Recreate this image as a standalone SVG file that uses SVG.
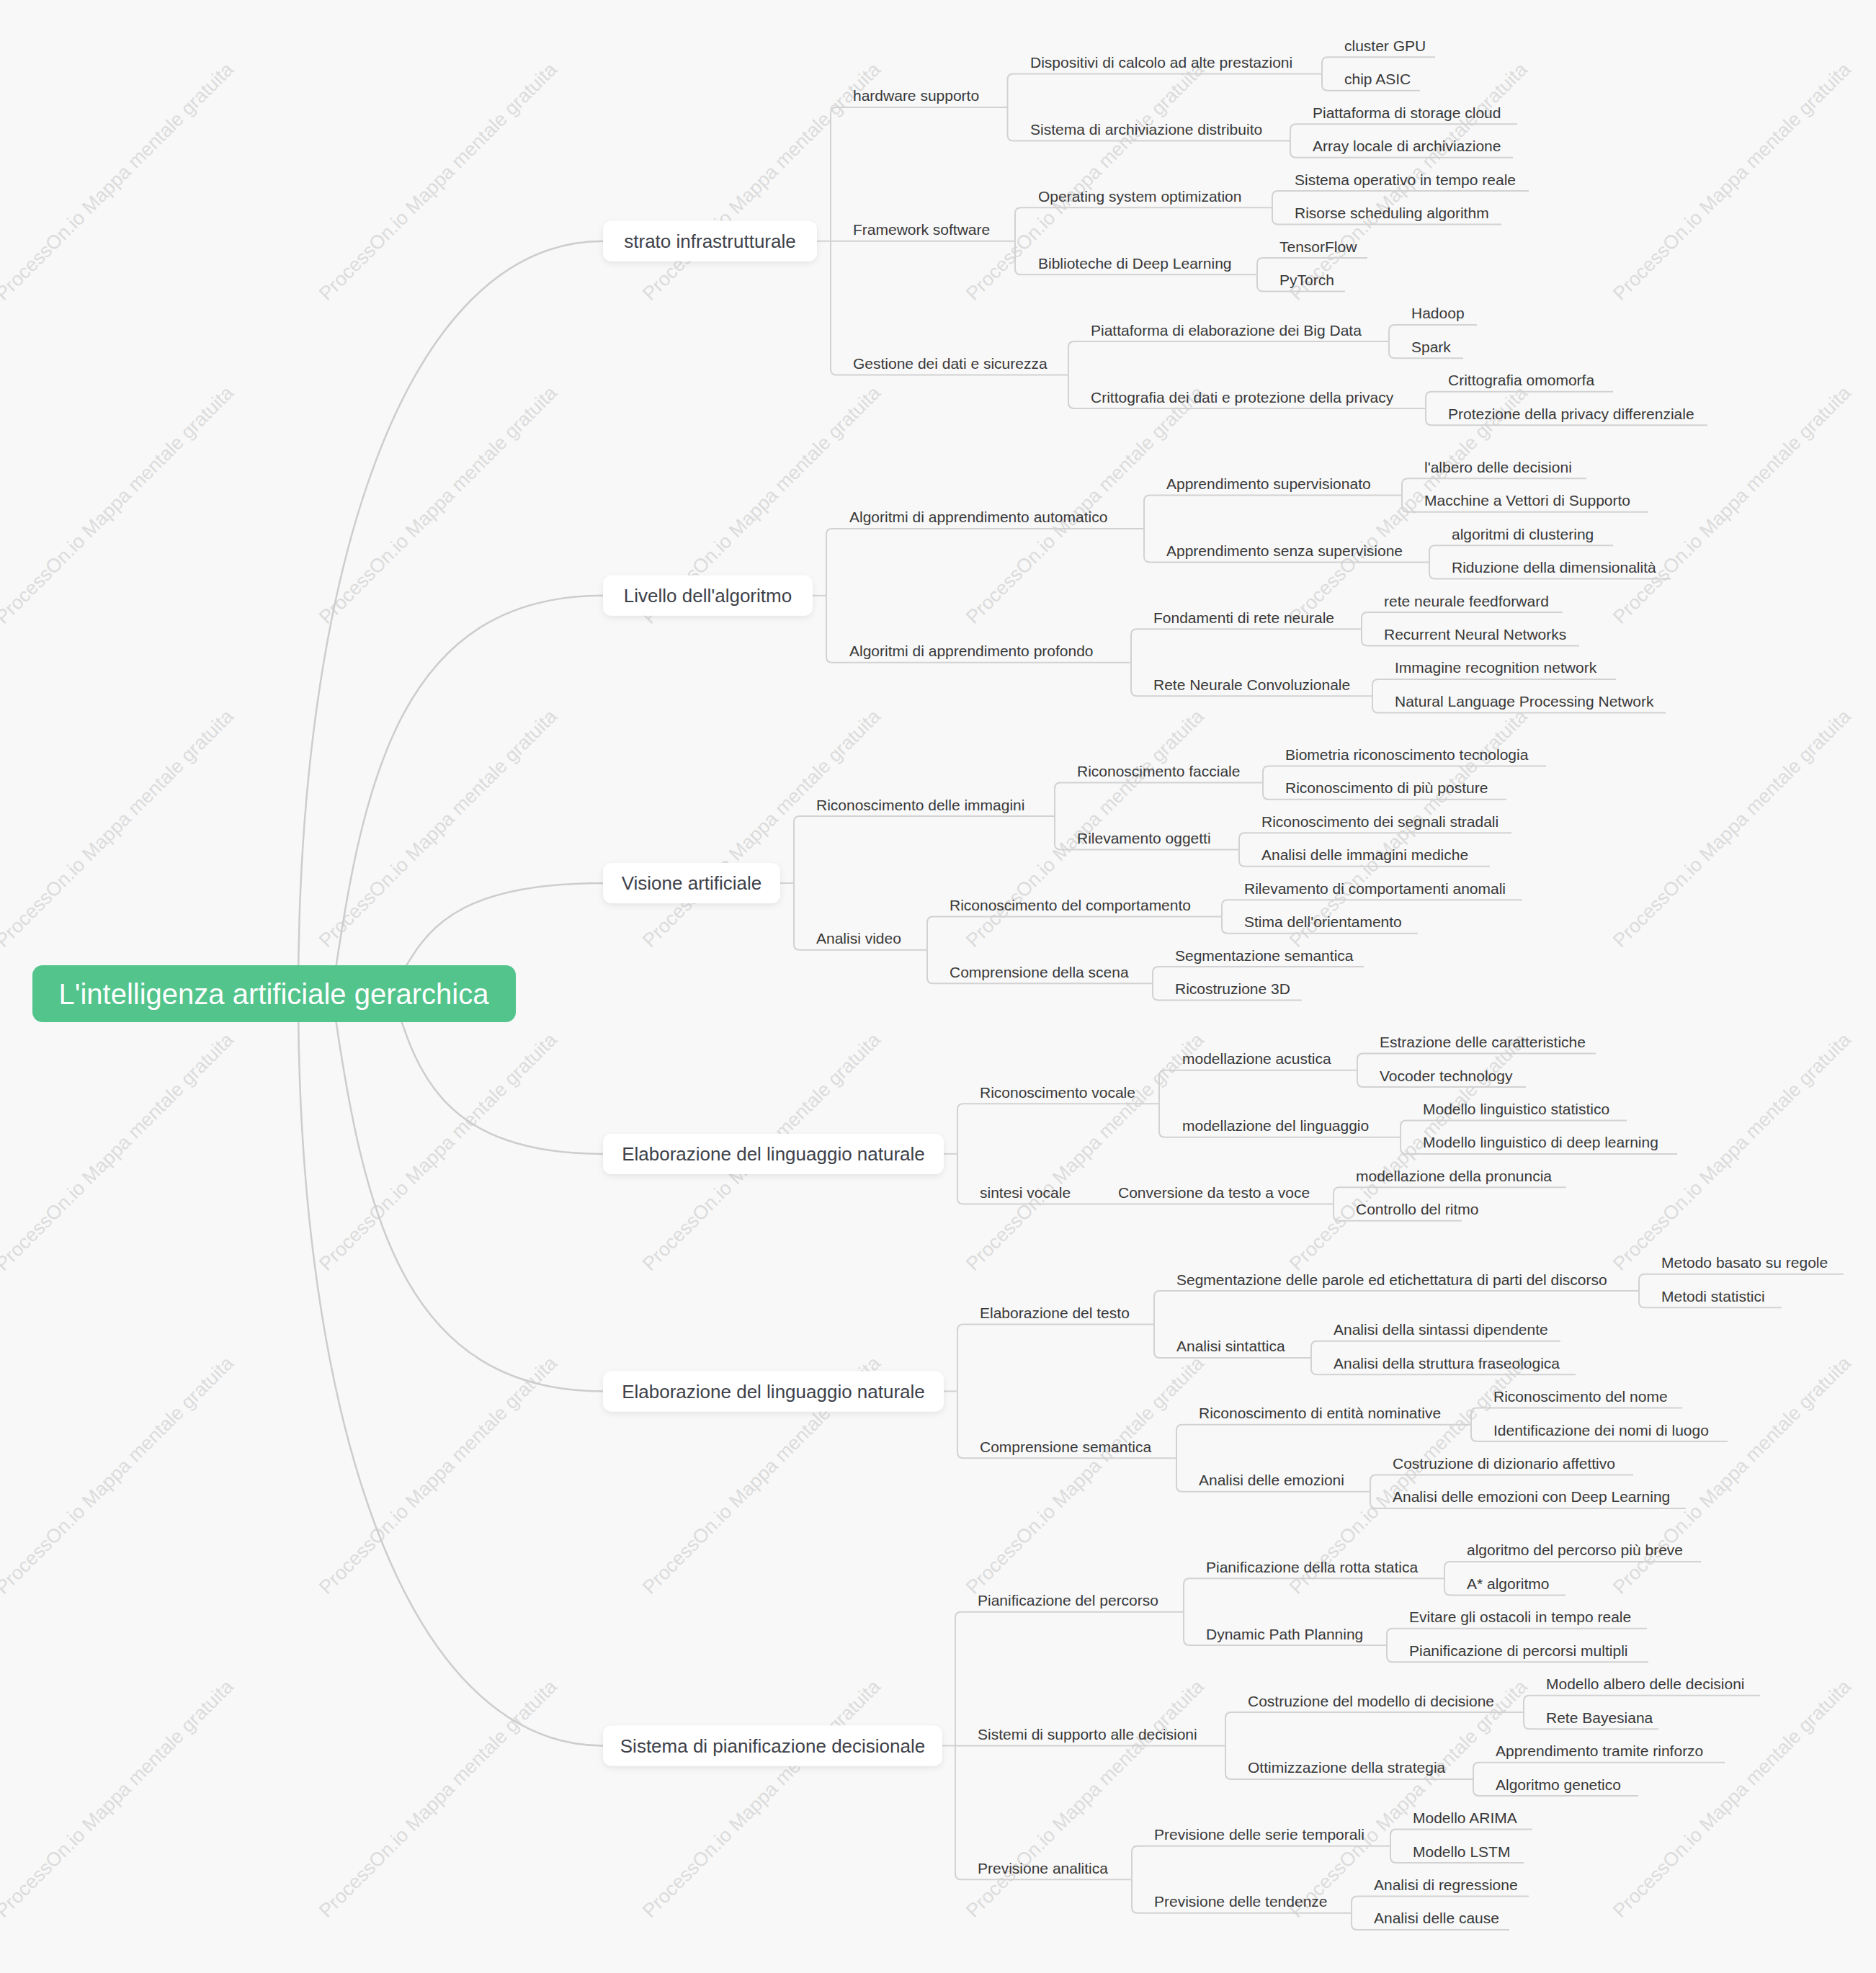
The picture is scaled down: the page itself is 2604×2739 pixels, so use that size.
<svg xmlns="http://www.w3.org/2000/svg" width="2604" height="2739" viewBox="0 0 2604 2739">
<style>
.t{font-family:"Liberation Sans",Arial,sans-serif;font-size:21px;fill:#383838}
.l1{font-family:"Liberation Sans",Arial,sans-serif;font-size:26px;fill:#3d4149;text-anchor:middle}
.rt{font-family:"Liberation Sans",Arial,sans-serif;font-size:40px;fill:#ffffff;text-anchor:middle}
.wm{font-family:"Liberation Sans",Arial,sans-serif;font-size:27px;fill:#dcdcdc;text-anchor:middle}
.ln{fill:none;stroke:#d2d2d2;stroke-width:2}
.cv{fill:none;stroke:#cdcdcd;stroke-width:2.5}
.box{fill:#ffffff}
</style>
<defs>
<filter id="sh" x="-10%" y="-30%" width="120%" height="170%">
<feDropShadow dx="0" dy="3" stdDeviation="4" flood-color="#000000" flood-opacity="0.08"/>
</filter>
</defs>
<rect x="0" y="0" width="2604" height="2739" fill="#f8f8f8"/>
<g id="watermarks">
<text class="wm" x="159" y="261" transform="rotate(-45 159 252)">ProcessOn.io Mappa mentale gratuita</text>
<text class="wm" x="608" y="261" transform="rotate(-45 608 252)">ProcessOn.io Mappa mentale gratuita</text>
<text class="wm" x="1057" y="261" transform="rotate(-45 1057 252)">ProcessOn.io Mappa mentale gratuita</text>
<text class="wm" x="1506" y="261" transform="rotate(-45 1506 252)">ProcessOn.io Mappa mentale gratuita</text>
<text class="wm" x="1955" y="261" transform="rotate(-45 1955 252)">ProcessOn.io Mappa mentale gratuita</text>
<text class="wm" x="2404" y="261" transform="rotate(-45 2404 252)">ProcessOn.io Mappa mentale gratuita</text>
<text class="wm" x="159" y="710" transform="rotate(-45 159 701)">ProcessOn.io Mappa mentale gratuita</text>
<text class="wm" x="608" y="710" transform="rotate(-45 608 701)">ProcessOn.io Mappa mentale gratuita</text>
<text class="wm" x="1057" y="710" transform="rotate(-45 1057 701)">ProcessOn.io Mappa mentale gratuita</text>
<text class="wm" x="1506" y="710" transform="rotate(-45 1506 701)">ProcessOn.io Mappa mentale gratuita</text>
<text class="wm" x="1955" y="710" transform="rotate(-45 1955 701)">ProcessOn.io Mappa mentale gratuita</text>
<text class="wm" x="2404" y="710" transform="rotate(-45 2404 701)">ProcessOn.io Mappa mentale gratuita</text>
<text class="wm" x="159" y="1159" transform="rotate(-45 159 1150)">ProcessOn.io Mappa mentale gratuita</text>
<text class="wm" x="608" y="1159" transform="rotate(-45 608 1150)">ProcessOn.io Mappa mentale gratuita</text>
<text class="wm" x="1057" y="1159" transform="rotate(-45 1057 1150)">ProcessOn.io Mappa mentale gratuita</text>
<text class="wm" x="1506" y="1159" transform="rotate(-45 1506 1150)">ProcessOn.io Mappa mentale gratuita</text>
<text class="wm" x="1955" y="1159" transform="rotate(-45 1955 1150)">ProcessOn.io Mappa mentale gratuita</text>
<text class="wm" x="2404" y="1159" transform="rotate(-45 2404 1150)">ProcessOn.io Mappa mentale gratuita</text>
<text class="wm" x="159" y="1608" transform="rotate(-45 159 1599)">ProcessOn.io Mappa mentale gratuita</text>
<text class="wm" x="608" y="1608" transform="rotate(-45 608 1599)">ProcessOn.io Mappa mentale gratuita</text>
<text class="wm" x="1057" y="1608" transform="rotate(-45 1057 1599)">ProcessOn.io Mappa mentale gratuita</text>
<text class="wm" x="1506" y="1608" transform="rotate(-45 1506 1599)">ProcessOn.io Mappa mentale gratuita</text>
<text class="wm" x="1955" y="1608" transform="rotate(-45 1955 1599)">ProcessOn.io Mappa mentale gratuita</text>
<text class="wm" x="2404" y="1608" transform="rotate(-45 2404 1599)">ProcessOn.io Mappa mentale gratuita</text>
<text class="wm" x="159" y="2057" transform="rotate(-45 159 2048)">ProcessOn.io Mappa mentale gratuita</text>
<text class="wm" x="608" y="2057" transform="rotate(-45 608 2048)">ProcessOn.io Mappa mentale gratuita</text>
<text class="wm" x="1057" y="2057" transform="rotate(-45 1057 2048)">ProcessOn.io Mappa mentale gratuita</text>
<text class="wm" x="1506" y="2057" transform="rotate(-45 1506 2048)">ProcessOn.io Mappa mentale gratuita</text>
<text class="wm" x="1955" y="2057" transform="rotate(-45 1955 2048)">ProcessOn.io Mappa mentale gratuita</text>
<text class="wm" x="2404" y="2057" transform="rotate(-45 2404 2048)">ProcessOn.io Mappa mentale gratuita</text>
<text class="wm" x="159" y="2506" transform="rotate(-45 159 2497)">ProcessOn.io Mappa mentale gratuita</text>
<text class="wm" x="608" y="2506" transform="rotate(-45 608 2497)">ProcessOn.io Mappa mentale gratuita</text>
<text class="wm" x="1057" y="2506" transform="rotate(-45 1057 2497)">ProcessOn.io Mappa mentale gratuita</text>
<text class="wm" x="1506" y="2506" transform="rotate(-45 1506 2497)">ProcessOn.io Mappa mentale gratuita</text>
<text class="wm" x="1955" y="2506" transform="rotate(-45 1955 2497)">ProcessOn.io Mappa mentale gratuita</text>
<text class="wm" x="2404" y="2506" transform="rotate(-45 2404 2497)">ProcessOn.io Mappa mentale gratuita</text>
</g>
<g id="connectors">
<path class="cv" d="M414,1380C414,800 560,334.75 837,334.75"/>
<path class="cv" d="M461,1380C503,1080 558,826.85 837,826.85"/>
<path class="cv" d="M540,1380C582,1320 594,1225.95 837,1225.95"/>
<path class="cv" d="M545,1380C577,1480 608,1601.9 837,1601.9"/>
<path class="cv" d="M461,1380C503,1680 558,1931.4 837,1931.4"/>
<path class="cv" d="M414,1380C414,1960 560,2423.45 837,2423.45"/>
<path class="ln" d="M1134,334.75H1153"/>
<path class="ln" d="M1153,334.75V156.95Q1153,148.95 1161,148.95H1398.5"/>
<path class="ln" d="M1153,334.75H1409"/>
<path class="ln" d="M1153,334.75V512.55Q1153,520.55 1161,520.55H1483"/>
<path class="ln" d="M1398.5,148.95V110.5Q1398.5,102.5 1406.5,102.5H1835"/>
<path class="ln" d="M1398.5,148.95V187.4Q1398.5,195.4 1406.5,195.4H1791"/>
<path class="ln" d="M1835,102.5V87.3Q1835,79.3 1843,79.3H1992"/>
<path class="ln" d="M1835,102.5V117.75Q1835,125.75 1843,125.75H1971"/>
<path class="ln" d="M1791,195.4V180.2Q1791,172.2 1799,172.2H2106"/>
<path class="ln" d="M1791,195.4V210.65Q1791,218.65 1799,218.65H2100"/>
<path class="ln" d="M1409,334.75V296.3Q1409,288.3 1417,288.3H1766"/>
<path class="ln" d="M1409,334.75V373.2Q1409,381.2 1417,381.2H1745"/>
<path class="ln" d="M1766,288.3V273.1Q1766,265.1 1774,265.1H2122"/>
<path class="ln" d="M1766,288.3V303.55Q1766,311.55 1774,311.55H2084"/>
<path class="ln" d="M1745,381.2V366Q1745,358 1753,358H1898"/>
<path class="ln" d="M1745,381.2V396.45Q1745,404.45 1753,404.45H1867"/>
<path class="ln" d="M1483,520.55V482.1Q1483,474.1 1491,474.1H1928"/>
<path class="ln" d="M1483,520.55V559Q1483,567 1491,567H1979"/>
<path class="ln" d="M1928,474.1V458.9Q1928,450.9 1936,450.9H2050"/>
<path class="ln" d="M1928,474.1V489.35Q1928,497.35 1936,497.35H2031"/>
<path class="ln" d="M1979,567V551.8Q1979,543.8 1987,543.8H2239"/>
<path class="ln" d="M1979,567V582.25Q1979,590.25 1987,590.25H2370"/>
<path class="ln" d="M1128,826.85H1147"/>
<path class="ln" d="M1147,826.85V741.95Q1147,733.95 1155,733.95H1588"/>
<path class="ln" d="M1147,826.85V911.75Q1147,919.75 1155,919.75H1570"/>
<path class="ln" d="M1588,733.95V695.5Q1588,687.5 1596,687.5H1946"/>
<path class="ln" d="M1588,733.95V772.4Q1588,780.4 1596,780.4H1984"/>
<path class="ln" d="M1946,687.5V672.25Q1946,664.25 1954,664.25H2202"/>
<path class="ln" d="M1946,687.5V702.7Q1946,710.7 1954,710.7H2288"/>
<path class="ln" d="M1984,780.4V765.15Q1984,757.15 1992,757.15H2239"/>
<path class="ln" d="M1984,780.4V795.6Q1984,803.6 1992,803.6H2319"/>
<path class="ln" d="M1570,919.75V881.3Q1570,873.3 1578,873.3H1890"/>
<path class="ln" d="M1570,919.75V958.2Q1570,966.2 1578,966.2H1905"/>
<path class="ln" d="M1890,873.3V858.05Q1890,850.05 1898,850.05H2169"/>
<path class="ln" d="M1890,873.3V888.5Q1890,896.5 1898,896.5H2192"/>
<path class="ln" d="M1905,966.2V950.95Q1905,942.95 1913,942.95H2243"/>
<path class="ln" d="M1905,966.2V981.4Q1905,989.4 1913,989.4H2312"/>
<path class="ln" d="M1083,1225.95H1102"/>
<path class="ln" d="M1102,1225.95V1141.05Q1102,1133.05 1110,1133.05H1464"/>
<path class="ln" d="M1102,1225.95V1310.85Q1102,1318.85 1110,1318.85H1287"/>
<path class="ln" d="M1464,1133.05V1094.6Q1464,1086.6 1472,1086.6H1753"/>
<path class="ln" d="M1464,1133.05V1171.5Q1464,1179.5 1472,1179.5H1720"/>
<path class="ln" d="M1753,1086.6V1071.4Q1753,1063.4 1761,1063.4H2146"/>
<path class="ln" d="M1753,1086.6V1101.85Q1753,1109.85 1761,1109.85H2091"/>
<path class="ln" d="M1720,1179.5V1164.3Q1720,1156.3 1728,1156.3H2098"/>
<path class="ln" d="M1720,1179.5V1194.75Q1720,1202.75 1728,1202.75H2068"/>
<path class="ln" d="M1287,1318.85V1280.4Q1287,1272.4 1295,1272.4H1696"/>
<path class="ln" d="M1287,1318.85V1357.3Q1287,1365.3 1295,1365.3H1600"/>
<path class="ln" d="M1696,1272.4V1257.2Q1696,1249.2 1704,1249.2H2113"/>
<path class="ln" d="M1696,1272.4V1287.65Q1696,1295.65 1704,1295.65H1968"/>
<path class="ln" d="M1600,1365.3V1350.1Q1600,1342.1 1608,1342.1H1893"/>
<path class="ln" d="M1600,1365.3V1380.55Q1600,1388.55 1608,1388.55H1807"/>
<path class="ln" d="M1310,1601.9H1329"/>
<path class="ln" d="M1329,1601.9V1540.25Q1329,1532.25 1337,1532.25H1609"/>
<path class="ln" d="M1329,1601.9V1663.6Q1329,1671.6 1337,1671.6H1521"/>
<path class="ln" d="M1609,1532.25V1493.8Q1609,1485.8 1617,1485.8H1884"/>
<path class="ln" d="M1609,1532.25V1570.7Q1609,1578.7 1617,1578.7H1944"/>
<path class="ln" d="M1884,1485.8V1470.55Q1884,1462.55 1892,1462.55H2215"/>
<path class="ln" d="M1884,1485.8V1501Q1884,1509 1892,1509H2118"/>
<path class="ln" d="M1944,1578.7V1563.45Q1944,1555.45 1952,1555.45H2258"/>
<path class="ln" d="M1944,1578.7V1593.9Q1944,1601.9 1952,1601.9H2328"/>
<path class="ln" d="M1521,1671.6H1851"/>
<path class="ln" d="M1851,1671.6V1656.35Q1851,1648.35 1859,1648.35H2174"/>
<path class="ln" d="M1851,1671.6V1686.8Q1851,1694.8 1859,1694.8H2029"/>
<path class="ln" d="M1310,1931.4H1329"/>
<path class="ln" d="M1329,1931.4V1846.5Q1329,1838.5 1337,1838.5H1602"/>
<path class="ln" d="M1329,1931.4V2016.25Q1329,2024.25 1337,2024.25H1633"/>
<path class="ln" d="M1602,1838.5V1800Q1602,1792 1610,1792H2275"/>
<path class="ln" d="M1602,1838.5V1876.9Q1602,1884.9 1610,1884.9H1820"/>
<path class="ln" d="M2275,1792V1776.8Q2275,1768.8 2283,1768.8H2559"/>
<path class="ln" d="M2275,1792V1807.25Q2275,1815.25 2283,1815.25H2473"/>
<path class="ln" d="M1820,1884.9V1869.7Q1820,1861.7 1828,1861.7H2166"/>
<path class="ln" d="M1820,1884.9V1900.15Q1820,1908.15 1828,1908.15H2187"/>
<path class="ln" d="M1633,2024.25V1985.8Q1633,1977.8 1641,1977.8H2042"/>
<path class="ln" d="M1633,2024.25V2062.7Q1633,2070.7 1641,2070.7H1902"/>
<path class="ln" d="M2042,1977.8V1962.6Q2042,1954.6 2050,1954.6H2335"/>
<path class="ln" d="M2042,1977.8V1993.05Q2042,2001.05 2050,2001.05H2398"/>
<path class="ln" d="M1902,2070.7V2055.5Q1902,2047.5 1910,2047.5H2267"/>
<path class="ln" d="M1902,2070.7V2085.95Q1902,2093.95 1910,2093.95H2340"/>
<path class="ln" d="M1308,2423.45H1326"/>
<path class="ln" d="M1326,2423.45V2245.65Q1326,2237.65 1334,2237.65H1643"/>
<path class="ln" d="M1326,2423.45H1701"/>
<path class="ln" d="M1326,2423.45V2601.25Q1326,2609.25 1334,2609.25H1571"/>
<path class="ln" d="M1643,2237.65V2199.2Q1643,2191.2 1651,2191.2H2005"/>
<path class="ln" d="M1643,2237.65V2276.1Q1643,2284.1 1651,2284.1H1925"/>
<path class="ln" d="M2005,2191.2V2175.95Q2005,2167.95 2013,2167.95H2361"/>
<path class="ln" d="M2005,2191.2V2206.4Q2005,2214.4 2013,2214.4H2173"/>
<path class="ln" d="M1925,2284.1V2268.85Q1925,2260.85 1933,2260.85H2286"/>
<path class="ln" d="M1925,2284.1V2299.3Q1925,2307.3 1933,2307.3H2288"/>
<path class="ln" d="M1701,2423.45V2385Q1701,2377 1709,2377H2115"/>
<path class="ln" d="M1701,2423.45V2461.9Q1701,2469.9 1709,2469.9H2045"/>
<path class="ln" d="M2115,2377V2361.75Q2115,2353.75 2123,2353.75H2443"/>
<path class="ln" d="M2115,2377V2392.2Q2115,2400.2 2123,2400.2H2302"/>
<path class="ln" d="M2045,2469.9V2454.65Q2045,2446.65 2053,2446.65H2394"/>
<path class="ln" d="M2045,2469.9V2485.1Q2045,2493.1 2053,2493.1H2274"/>
<path class="ln" d="M1571,2609.25V2570.8Q1571,2562.8 1579,2562.8H1930"/>
<path class="ln" d="M1571,2609.25V2647.7Q1571,2655.7 1579,2655.7H1876"/>
<path class="ln" d="M1930,2562.8V2547.55Q1930,2539.55 1938,2539.55H2127"/>
<path class="ln" d="M1930,2562.8V2578Q1930,2586 1938,2586H2115"/>
<path class="ln" d="M1876,2655.7V2640.45Q1876,2632.45 1884,2632.45H2122"/>
<path class="ln" d="M1876,2655.7V2670.9Q1876,2678.9 1884,2678.9H2095"/>
</g>
<g id="root">
<rect x="45" y="1340" width="671" height="79" rx="14" fill="#52c48c"/>
<text class="rt" x="380" y="1394">L'intelligenza artificiale gerarchica</text>
</g>
<g id="n1"><rect class="box" filter="url(#sh)" x="837" y="306.75" width="297" height="56" rx="12"/><text class="l1" x="985.5" y="344.25">strato infrastrutturale</text></g>
<g id="n2"><rect class="box" filter="url(#sh)" x="837" y="798.85" width="291" height="56" rx="12"/><text class="l1" x="982.5" y="836.35">Livello dell'algoritmo</text></g>
<g id="n3"><rect class="box" filter="url(#sh)" x="837" y="1197.95" width="246" height="56" rx="12"/><text class="l1" x="960" y="1235.45">Visione artificiale</text></g>
<g id="n4"><rect class="box" filter="url(#sh)" x="837" y="1573.9" width="473" height="56" rx="12"/><text class="l1" x="1073.5" y="1611.4">Elaborazione del linguaggio naturale</text></g>
<g id="n5"><rect class="box" filter="url(#sh)" x="837" y="1903.4" width="473" height="56" rx="12"/><text class="l1" x="1073.5" y="1940.9">Elaborazione del linguaggio naturale</text></g>
<g id="n6"><rect class="box" filter="url(#sh)" x="837" y="2395.45" width="471" height="56" rx="12"/><text class="l1" x="1072.5" y="2432.95">Sistema di pianificazione decisionale</text></g>
<g id="n1-1"><text class="t" x="1184" y="140.45">hardware supporto</text></g>
<g id="n1-2"><text class="t" x="1184" y="326.25">Framework software</text></g>
<g id="n1-3"><text class="t" x="1184" y="512.05">Gestione dei dati e sicurezza</text></g>
<g id="n1-1-1"><text class="t" x="1430" y="94">Dispositivi di calcolo ad alte prestazioni</text></g>
<g id="n1-1-2"><text class="t" x="1430" y="186.9">Sistema di archiviazione distribuito</text></g>
<g id="n1-1-1-1"><text class="t" x="1866" y="70.8">cluster GPU</text></g>
<g id="n1-1-1-2"><text class="t" x="1866" y="117.25">chip ASIC</text></g>
<g id="n1-1-2-1"><text class="t" x="1822" y="163.7">Piattaforma di storage cloud</text></g>
<g id="n1-1-2-2"><text class="t" x="1822" y="210.15">Array locale di archiviazione</text></g>
<g id="n1-2-1"><text class="t" x="1441" y="279.8">Operating system optimization</text></g>
<g id="n1-2-2"><text class="t" x="1441" y="372.7">Biblioteche di Deep Learning</text></g>
<g id="n1-2-1-1"><text class="t" x="1797" y="256.6">Sistema operativo in tempo reale</text></g>
<g id="n1-2-1-2"><text class="t" x="1797" y="303.05">Risorse scheduling algorithm</text></g>
<g id="n1-2-2-1"><text class="t" x="1776" y="349.5">TensorFlow</text></g>
<g id="n1-2-2-2"><text class="t" x="1776" y="395.95">PyTorch</text></g>
<g id="n1-3-1"><text class="t" x="1514" y="465.6">Piattaforma di elaborazione dei Big Data</text></g>
<g id="n1-3-2"><text class="t" x="1514" y="558.5">Crittografia dei dati e protezione della privacy</text></g>
<g id="n1-3-1-1"><text class="t" x="1959" y="442.4">Hadoop</text></g>
<g id="n1-3-1-2"><text class="t" x="1959" y="488.85">Spark</text></g>
<g id="n1-3-2-1"><text class="t" x="2010" y="535.3">Crittografia omomorfa</text></g>
<g id="n1-3-2-2"><text class="t" x="2010" y="581.75">Protezione della privacy differenziale</text></g>
<g id="n2-1"><text class="t" x="1179" y="725.45">Algoritmi di apprendimento automatico</text></g>
<g id="n2-2"><text class="t" x="1179" y="911.25">Algoritmi di apprendimento profondo</text></g>
<g id="n2-1-1"><text class="t" x="1619" y="679">Apprendimento supervisionato</text></g>
<g id="n2-1-2"><text class="t" x="1619" y="771.9">Apprendimento senza supervisione</text></g>
<g id="n2-1-1-1"><text class="t" x="1977" y="655.75">l'albero delle decisioni</text></g>
<g id="n2-1-1-2"><text class="t" x="1977" y="702.2">Macchine a Vettori di Supporto</text></g>
<g id="n2-1-2-1"><text class="t" x="2015" y="748.65">algoritmi di clustering</text></g>
<g id="n2-1-2-2"><text class="t" x="2015" y="795.1">Riduzione della dimensionalità</text></g>
<g id="n2-2-1"><text class="t" x="1601" y="864.8">Fondamenti di rete neurale</text></g>
<g id="n2-2-2"><text class="t" x="1601" y="957.7">Rete Neurale Convoluzionale</text></g>
<g id="n2-2-1-1"><text class="t" x="1921" y="841.55">rete neurale feedforward</text></g>
<g id="n2-2-1-2"><text class="t" x="1921" y="888">Recurrent Neural Networks</text></g>
<g id="n2-2-2-1"><text class="t" x="1936" y="934.45">Immagine recognition network</text></g>
<g id="n2-2-2-2"><text class="t" x="1936" y="980.9">Natural Language Processing Network</text></g>
<g id="n3-1"><text class="t" x="1133" y="1124.55">Riconoscimento delle immagini</text></g>
<g id="n3-2"><text class="t" x="1133" y="1310.35">Analisi video</text></g>
<g id="n3-1-1"><text class="t" x="1495" y="1078.1">Riconoscimento facciale</text></g>
<g id="n3-1-2"><text class="t" x="1495" y="1171">Rilevamento oggetti</text></g>
<g id="n3-1-1-1"><text class="t" x="1784" y="1054.9">Biometria riconoscimento tecnologia</text></g>
<g id="n3-1-1-2"><text class="t" x="1784" y="1101.35">Riconoscimento di più posture</text></g>
<g id="n3-1-2-1"><text class="t" x="1751" y="1147.8">Riconoscimento dei segnali stradali</text></g>
<g id="n3-1-2-2"><text class="t" x="1751" y="1194.25">Analisi delle immagini mediche</text></g>
<g id="n3-2-1"><text class="t" x="1318" y="1263.9">Riconoscimento del comportamento</text></g>
<g id="n3-2-2"><text class="t" x="1318" y="1356.8">Comprensione della scena</text></g>
<g id="n3-2-1-1"><text class="t" x="1727" y="1240.7">Rilevamento di comportamenti anomali</text></g>
<g id="n3-2-1-2"><text class="t" x="1727" y="1287.15">Stima dell'orientamento</text></g>
<g id="n3-2-2-1"><text class="t" x="1631" y="1333.6">Segmentazione semantica</text></g>
<g id="n3-2-2-2"><text class="t" x="1631" y="1380.05">Ricostruzione 3D</text></g>
<g id="n4-1"><text class="t" x="1360" y="1523.75">Riconoscimento vocale</text></g>
<g id="n4-2"><text class="t" x="1360" y="1663.1">sintesi vocale</text></g>
<g id="n4-1-1"><text class="t" x="1641" y="1477.3">modellazione acustica</text></g>
<g id="n4-1-2"><text class="t" x="1641" y="1570.2">modellazione del linguaggio</text></g>
<g id="n4-1-1-1"><text class="t" x="1915" y="1454.05">Estrazione delle caratteristiche</text></g>
<g id="n4-1-1-2"><text class="t" x="1915" y="1500.5">Vocoder technology</text></g>
<g id="n4-1-2-1"><text class="t" x="1975" y="1546.95">Modello linguistico statistico</text></g>
<g id="n4-1-2-2"><text class="t" x="1975" y="1593.4">Modello linguistico di deep learning</text></g>
<g id="n4-2-1"><text class="t" x="1552" y="1663.1">Conversione da testo a voce</text></g>
<g id="n4-2-1-1"><text class="t" x="1882" y="1639.85">modellazione della pronuncia</text></g>
<g id="n4-2-1-2"><text class="t" x="1882" y="1686.3">Controllo del ritmo</text></g>
<g id="n5-1"><text class="t" x="1360" y="1830">Elaborazione del testo</text></g>
<g id="n5-2"><text class="t" x="1360" y="2015.75">Comprensione semantica</text></g>
<g id="n5-1-1"><text class="t" x="1633" y="1783.5">Segmentazione delle parole ed etichettatura di parti del discorso</text></g>
<g id="n5-1-2"><text class="t" x="1633" y="1876.4">Analisi sintattica</text></g>
<g id="n5-1-1-1"><text class="t" x="2306" y="1760.3">Metodo basato su regole</text></g>
<g id="n5-1-1-2"><text class="t" x="2306" y="1806.75">Metodi statistici</text></g>
<g id="n5-1-2-1"><text class="t" x="1851" y="1853.2">Analisi della sintassi dipendente</text></g>
<g id="n5-1-2-2"><text class="t" x="1851" y="1899.65">Analisi della struttura fraseologica</text></g>
<g id="n5-2-1"><text class="t" x="1664" y="1969.3">Riconoscimento di entità nominative</text></g>
<g id="n5-2-2"><text class="t" x="1664" y="2062.2">Analisi delle emozioni</text></g>
<g id="n5-2-1-1"><text class="t" x="2073" y="1946.1">Riconoscimento del nome</text></g>
<g id="n5-2-1-2"><text class="t" x="2073" y="1992.55">Identificazione dei nomi di luogo</text></g>
<g id="n5-2-2-1"><text class="t" x="1933" y="2039">Costruzione di dizionario affettivo</text></g>
<g id="n5-2-2-2"><text class="t" x="1933" y="2085.45">Analisi delle emozioni con Deep Learning</text></g>
<g id="n6-1"><text class="t" x="1357" y="2229.15">Pianificazione del percorso</text></g>
<g id="n6-2"><text class="t" x="1357" y="2414.95">Sistemi di supporto alle decisioni</text></g>
<g id="n6-3"><text class="t" x="1357" y="2600.75">Previsione analitica</text></g>
<g id="n6-1-1"><text class="t" x="1674" y="2182.7">Pianificazione della rotta statica</text></g>
<g id="n6-1-2"><text class="t" x="1674" y="2275.6">Dynamic Path Planning</text></g>
<g id="n6-1-1-1"><text class="t" x="2036" y="2159.45">algoritmo del percorso più breve</text></g>
<g id="n6-1-1-2"><text class="t" x="2036" y="2205.9">A* algoritmo</text></g>
<g id="n6-1-2-1"><text class="t" x="1956" y="2252.35">Evitare gli ostacoli in tempo reale</text></g>
<g id="n6-1-2-2"><text class="t" x="1956" y="2298.8">Pianificazione di percorsi multipli</text></g>
<g id="n6-2-1"><text class="t" x="1732" y="2368.5">Costruzione del modello di decisione</text></g>
<g id="n6-2-2"><text class="t" x="1732" y="2461.4">Ottimizzazione della strategia</text></g>
<g id="n6-2-1-1"><text class="t" x="2146" y="2345.25">Modello albero delle decisioni</text></g>
<g id="n6-2-1-2"><text class="t" x="2146" y="2391.7">Rete Bayesiana</text></g>
<g id="n6-2-2-1"><text class="t" x="2076" y="2438.15">Apprendimento tramite rinforzo</text></g>
<g id="n6-2-2-2"><text class="t" x="2076" y="2484.6">Algoritmo genetico</text></g>
<g id="n6-3-1"><text class="t" x="1602" y="2554.3">Previsione delle serie temporali</text></g>
<g id="n6-3-2"><text class="t" x="1602" y="2647.2">Previsione delle tendenze</text></g>
<g id="n6-3-1-1"><text class="t" x="1961" y="2531.05">Modello ARIMA</text></g>
<g id="n6-3-1-2"><text class="t" x="1961" y="2577.5">Modello LSTM</text></g>
<g id="n6-3-2-1"><text class="t" x="1907" y="2623.95">Analisi di regressione</text></g>
<g id="n6-3-2-2"><text class="t" x="1907" y="2670.4">Analisi delle cause</text></g>
</svg>
